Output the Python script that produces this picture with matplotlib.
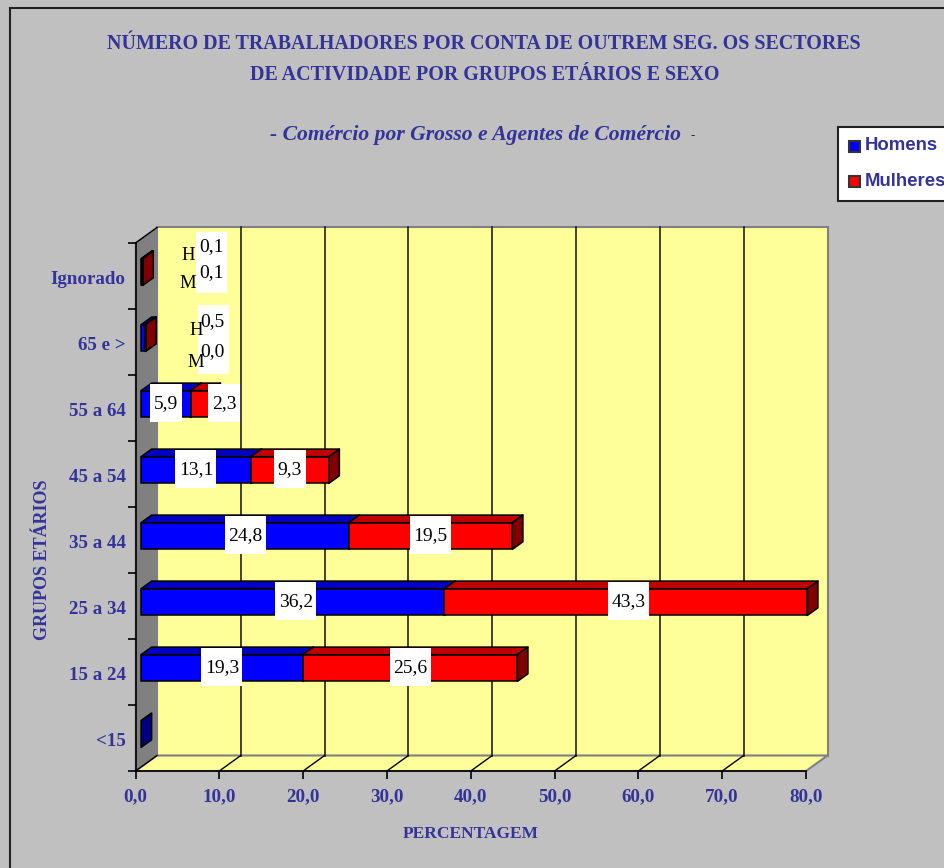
import matplotlib
matplotlib.use('Agg')
import matplotlib.pyplot as plt
from matplotlib.patches import Polygon, Rectangle

plt.rcParams['font.family'] = ['Liberation Serif', 'DejaVu Serif']

grupos = ['<15', '15 a 24', '25 a 34', '35 a 44', '45 a 54', '55 a 64', '65 e >', 'Ignorado']
homens = [0.0, 19.3, 36.2, 24.8, 13.1, 5.9, 0.5, 0.1]
mulheres = [0.0, 25.6, 43.3, 19.5, 9.3, 2.3, 0.04, 0.1]
xticks = [0, 10, 20, 30, 40, 50, 60, 70, 80]

azul = '#333399'
W, H = 944, 868
fig = plt.figure(figsize=(W / 100, H / 100), dpi=100, facecolor='#c0c0c0')


def fx(p):
    return p / W


def fy(p):
    return 1 - p / H


ax = fig.add_axes([fx(135.5), fy(771), (806 - 135.5) / W, (771 - 243) / H])
ax.set_xlim(0, 80)
ax.set_ylim(0, 8)
ax.patch.set_visible(False)

# tamanho de um pixel em unidades dos dados
px = 80 / 670.5
py = 8 / 528
DX = 21.5 * px
DY = 15.5 * py

# paredes e chao
ax.add_patch(Polygon([(DX, DY), (80 + DX, DY), (80 + DX, 8 + DY), (DX, 8 + DY)], fc='#ffff99', ec='#808080', lw=1.5, clip_on=False, zorder=1))
ax.add_patch(Polygon([(0, 0), (DX, DY), (DX, 8 + DY), (0, 8)], fc='#808080', ec='#808080', lw=1, clip_on=False, zorder=1))
ax.add_patch(Polygon([(0, 0), (80, 0), (80 + DX, DY), (DX, DY)], fc='#ffff99', ec='#808080', lw=1.5, clip_on=False, zorder=1))
for t in xticks[1:-1]:
    ax.plot([t + DX, t + DX], [DY, 8 + DY], color='#222222', lw=1.2, clip_on=False, zorder=2)
for t in xticks[:-1]:
    ax.plot([t, t + DX], [0, DY], color='black', lw=1, clip_on=False, zorder=2)
ax.plot([0, DX], [8, 8 + DY], color='black', lw=1, clip_on=False, zorder=2)


def barra(x0, x1, yc, cor, topo, lado, z):
    d0, d1 = 0.26, 0.75
    h = 0.405
    xa, xb = x0 + d0 * DX, x1 + d0 * DX
    y0, y1 = yc - h / 2, yc + h / 2
    ox, oy = (d1 - d0) * DX, (d1 - d0) * DY
    kw = dict(ec='black', lw=1.1, clip_on=False, zorder=z, joinstyle='round')
    ax.add_patch(Polygon([(xa, y1), (xb, y1), (xb + ox, y1 + oy), (xa + ox, y1 + oy)], fc=topo, **kw))
    ax.add_patch(Polygon([(xb, y0), (xb + ox, y0 + oy), (xb + ox, y1 + oy), (xb, y1)], fc=lado, **kw))
    if x1 > x0:
        ax.add_patch(Rectangle((xa, y0), xb - xa, h, fc=cor, **kw))


def caixa(xc, yc, larg, alt, txt, dy=-0.5):
    ax.add_patch(Rectangle((xc - larg / 2 * px, yc - alt / 2 * py), larg * px, alt * py, fc='white', ec='none', clip_on=False, zorder=8))
    ax.text(xc, yc + dy * py, txt, ha='center', va='center', fontsize=14, color='black', zorder=9, clip_on=False)


fmt = lambda v: f'{v:.1f}'.replace('.', ',')

# barras e rotulos das categorias com valores visiveis
for i in range(len(grupos)):
    yc = i + 0.56
    h, m = homens[i], mulheres[i]
    barra(0, h, yc, '#0000ff', '#0000c0', '#000080', 5 + i * 0.01)
    if m > 0:
        barra(h, h + m, yc, '#ff0000', '#c00000', '#800000', 5.5 + i * 0.01)

d = 0.26 * DX
for i in range(1, 6):
    yc = i + 0.56 + 0.015
    h, m = homens[i], mulheres[i]
    caixa(d + h / 2 + (3 * px if h > 30 else 0), yc, 32 if h < 10 else 41, 38, fmt(h))
    xm = d + h + m / 2 + (3 * px if m > 30 else 0)
    if m < 3:
        xm += 24 * px
    caixa(xm, yc, 32 if m < 10 else 41, 38, fmt(m))

# os dois grupos pequenos
ax.add_patch(Rectangle((196 * px - 135.5 * px, (771 - 293) * py), 31 * px, 61 * py, fc='white', ec='none', clip_on=False, zorder=8))
ax.add_patch(Rectangle((198 * px - 135.5 * px, (771 - 374) * py), 31 * px, 69 * py, fc='white', ec='none', clip_on=False, zorder=8))
for i, ya, yb, xa, xt in [(7, 247, 273, 211, 188), (6, 322, 352, 212, 196)]:
    ax.text((xa - 135.5) * px, (771 - ya) * py, fmt(homens[i]), ha='center', va='center', fontsize=14, zorder=9)
    ax.text((xa - 135.5) * px, (771 - yb) * py, fmt(mulheres[i]), ha='center', va='center', fontsize=14, zorder=9)
    ax.text((xt - 135.5) * px, (771 - ya - 9) * py, 'H', ha='center', va='center', fontsize=13.5, zorder=10)
    ax.text((xt - 135.5) * px, (771 - yb - 11) * py, 'M', ha='center', va='center', fontsize=13.5, zorder=10)

# eixos
for s in ['top', 'right']:
    ax.spines[s].set_visible(False)
for s in ['left', 'bottom']:
    ax.spines[s].set_linewidth(1.2)
    ax.spines[s].set_zorder(3)
ax.set_xticks(xticks)
ax.set_xticklabels([fmt(t) for t in xticks], fontsize=13.7, fontweight='bold', color=azul)
ax.set_yticks(range(9))
ax.set_yticklabels([])
ax.set_yticks([i + 0.47 for i in range(8)], minor=True)
ax.set_yticklabels(grupos, minor=True, fontsize=13.7, fontweight='bold', color=azul)
ax.tick_params(axis='y', which='major', length=6, width=1.2, color='black')
ax.tick_params(axis='y', which='minor', length=0, pad=7)
ax.tick_params(axis='x', length=5.5, width=1.2, color='black', pad=7)

# titulos
fig.text(fx(484), fy(44), 'NÚMERO DE TRABALHADORES POR CONTA DE OUTREM SEG. OS SECTORES', ha='center', va='center', fontsize=14.4, fontweight='bold', color=azul)
fig.text(fx(485), fy(75), 'DE ACTIVIDADE POR GRUPOS ETÁRIOS E SEXO', ha='center', va='center', fontsize=14.4, fontweight='bold', color=azul)
fig.text(fx(476), fy(135), '- Comércio por Grosso e Agentes de Comércio', ha='center', va='center', fontsize=15.6, fontweight='bold', fontstyle='italic', color=azul)
fig.text(fx(693), fy(135), '-', ha='center', va='center', fontsize=9, fontweight='bold', color='black')
fig.text(fx(471), fy(834), 'PERCENTAGEM', ha='center', va='center', fontsize=12.5, fontweight='bold', color=azul)
fig.text(fx(43), fy(560), 'GRUPOS ETÁRIOS', ha='center', va='center', rotation=90, fontsize=13, fontweight='bold', color=azul)

# moldura
fig.add_artist(plt.Line2D([fx(10), fx(10)], [fy(8), fy(868)], color='#222222', lw=1.5))
fig.add_artist(plt.Line2D([fx(10), fx(944)], [fy(8), fy(8)], color='#222222', lw=1.5))

# legenda
fig.add_artist(Rectangle((fx(838), fy(200.5)), 200 / W, 73.5 / H, transform=fig.transFigure, fc='white', ec='#222222', lw=1.5))
for nome, cor, yl in [('Homens', '#0000ff', 146), ('Mulheres', '#ff0000', 181.5)]:
    fig.add_artist(Rectangle((fx(848.5), fy(yl + 5.5)), 11 / W, 11 / H, transform=fig.transFigure, fc=cor, ec='#333333', lw=1.5))
    fig.text(fx(865), fy(yl), nome, ha='left', va='center', fontsize=13.4, fontweight='bold', color=azul, family=['Liberation Sans', 'DejaVu Sans'])

fig.savefig('out.png', dpi=100, facecolor=fig.get_facecolor())
